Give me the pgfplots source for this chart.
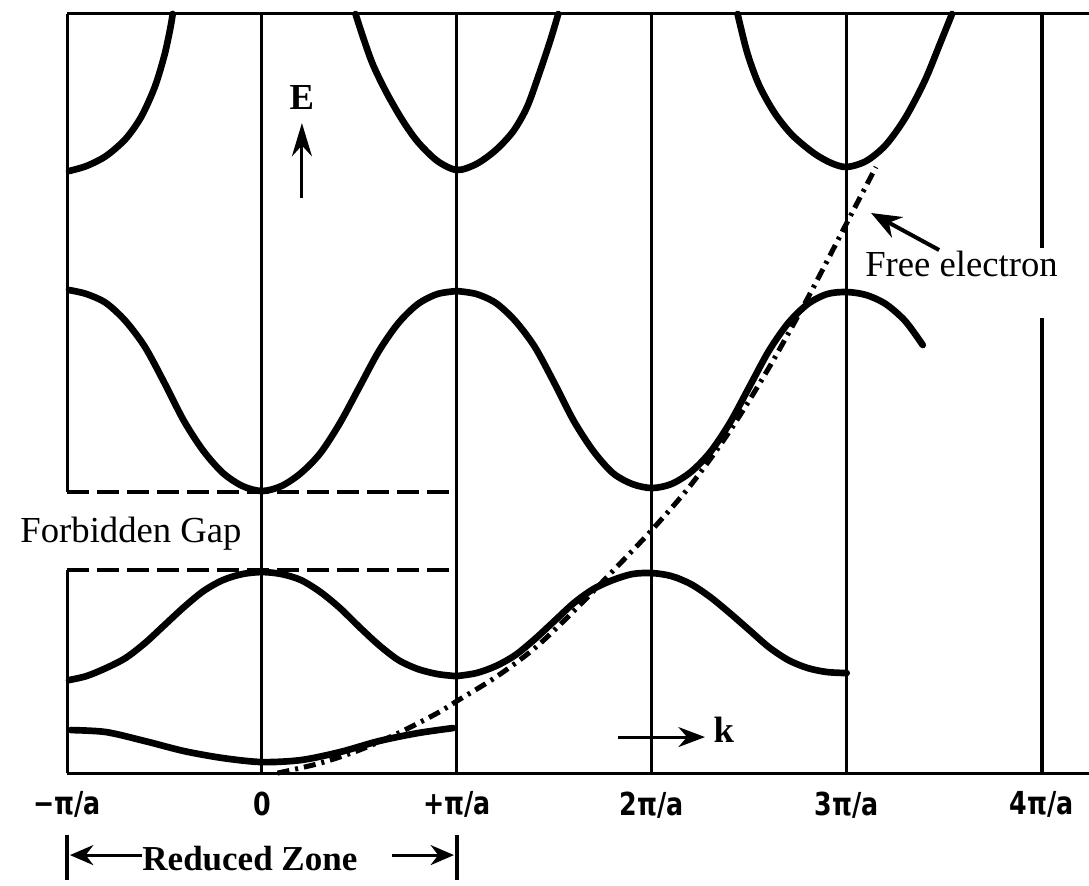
\documentclass[border=0pt]{standalone}
\usepackage{fontspec}
\setmainfont{Liberation Serif}
\newfontfamily\tickfont{DejaVu Sans}[FakeStretch=0.8]
\usepackage{pgfplots}
\pgfplotsset{compat=1.18}
\usetikzlibrary{arrows.meta}

% band curves, zone lines and the free-electron parabola
\tikzset{
  band/.style={line width=2pt, black, smooth, line cap=round},
  zoneline/.style={line width=0.9pt, black},
  gapline/.style={line width=1.2pt, black, dash pattern=on 6.6pt off 2.4pt},
  freeel/.style={line width=1.5pt, black, smooth, dash pattern=on 3.6pt off 1.8pt on 0.9pt off 1.8pt},
  note/.style={font=\fontsize{11}{12}\selectfont},
}

\begin{document}
\begin{tikzpicture}
\begin{axis}[
  scale only axis,
  width=306.56pt, height=227.7pt,
  xmin=-1, xmax=4.243, ymin=0, ymax=759,
  separate axis lines,
  x axis line style={line width=0.9pt},
  y axis line style={draw=none},
  tick pos=left,
  xtick={-1,0,1,2,3,4},
  xticklabels={−π/a, 0, +π/a, 2π/a, 3π/a, 4π/a},
  xticklabel style={font=\tickfont\bfseries\fontsize{9.5}{10}\selectfont, yshift=-2pt},
  ytick=\empty,
  major tick length=0pt,
  clip=false,
]

% left frame, broken at the forbidden gap
\addplot[zoneline] coordinates {(-1,0) (-1,203)};
\addplot[zoneline] coordinates {(-1,281) (-1,759)};
% zone boundaries
\addplot[zoneline] coordinates {(0,0) (0,759)};
\addplot[zoneline] coordinates {(1,0) (1,759)};
\addplot[zoneline] coordinates {(2,0) (2,759)};
\addplot[zoneline] coordinates {(3,0) (3,759)};
\addplot[line width=1.2pt] coordinates {(4,0) (4,455)};
\addplot[line width=1.2pt] coordinates {(4,525) (4,759)};

% edges of the forbidden gap
\addplot[gapline] coordinates {(-1,281) (0.99,281)};
\addplot[gapline] coordinates {(-1,203) (1,203)};

% band 1 (reduced zone)
\addplot[band] coordinates {
(-0.98,43) (-0.8,41) (-0.6,32) (-0.4,22) (-0.2,15) (0,11) (0.2,13) (0.4,21) (0.6,32) (0.8,40) (0.98,45)};

% band 2
\addplot[band] coordinates {
(-0.99,93) (-0.9,97) (-0.8,105) (-0.7,115) (-0.6,130) (-0.5,148) (-0.4,166) (-0.3,182) (-0.2,193) (-0.1,199) (0,201)
(0.1,199) (0.2,193) (0.3,181) (0.4,165) (0.5,146) (0.6,128) (0.7,113) (0.8,104) (0.9,99) (0.99,97)};
\addplot[band] coordinates {
(1.0,97) (1.1,100) (1.2,107) (1.3,118) (1.4,134) (1.5,152) (1.6,170) (1.7,184) (1.8,193) (1.9,199) (2.0,200)
(2.1,197) (2.2,189) (2.3,176) (2.4,160) (2.5,143) (2.6,126) (2.7,113) (2.8,105) (2.9,101) (3.0,100)};

% band 3
\addplot[band] coordinates {
(-0.99,483) (-0.9,479) (-0.8,470) (-0.7,452) (-0.6,426) (-0.5,390) (-0.4,352) (-0.3,322) (-0.2,300) (-0.1,287) (0,282)
(0.1,287) (0.2,300) (0.3,320) (0.4,350) (0.5,386) (0.6,422) (0.7,450) (0.8,469) (0.9,479) (1.0,482)};
\addplot[band] coordinates {
(1.0,482) (1.1,479) (1.2,470) (1.3,452) (1.4,426) (1.5,390) (1.6,352) (1.7,322) (1.8,300) (1.9,289) (2.0,285)
(2.1,289) (2.2,301) (2.3,321) (2.4,350) (2.5,386) (2.6,422) (2.7,450) (2.8,469) (2.9,479) (3.0,481)
(3.1,478) (3.2,469) (3.3,452) (3.39,428)};

% band 4
\addplot[band] coordinates {
(-0.99,602) (-0.9,607) (-0.8,617) (-0.7,634) (-0.62,656) (-0.55,686) (-0.5,718) (-0.47,745) (-0.458,759)};
\addplot[band] coordinates {
(0.48,759) (0.52,735) (0.57,708) (0.64,680) (0.72,653) (0.8,631) (0.9,612) (1.0,603)
(1.1,609) (1.2,623) (1.29,642) (1.36,666) (1.42,698) (1.48,733) (1.52,759)};
\addplot[band] coordinates {
(2.44,759) (2.49,720) (2.55,688) (2.63,660) (2.72,638) (2.83,620) (2.92,610) (3.0,606)
(3.1,612) (3.2,628) (3.3,655) (3.4,692) (3.48,730) (3.54,759)};

% free electron
\addplot[freeel] coordinates {
(0.08,0) (0.3,10) (0.5,23) (0.7,40) (0.9,60) (1.0,72) (1.2,96) (1.4,125) (1.6,162) (1.8,202) (2.0,243)
(2.2,288) (2.4,342) (2.6,405) (2.8,475) (3.0,550) (3.15,606)};

% annotations
\node[note, anchor=base] at (axis cs:-0.672,231) {Forbidden Gap};
\node[note, anchor=base] at (axis cs:3.589,497) {Free electron};
\draw[line width=1.2pt, -{Stealth[length=9pt,width=7pt]}] (axis cs:3.474,523) -- (axis cs:3.125,560);

\node[font=\bfseries\fontsize{11}{12}\selectfont] at (axis cs:0.205,676) {E};
\draw[line width=0.9pt, -{Stealth[length=10pt,width=6pt]}] (axis cs:0.205,575) -- (axis cs:0.205,650);

\draw[line width=0.9pt, -{Stealth[length=8pt,width=6pt]}] (axis cs:1.827,36) -- (axis cs:2.273,36);
\node[font=\bfseries\fontsize{11}{12}\selectfont, anchor=base] at (axis cs:2.37,31) {k};

% reduced zone marker
\draw[line width=1.2pt] (axis cs:-1,-62) -- (axis cs:-1,-107);
\draw[line width=1.2pt] (axis cs:1,-62) -- (axis cs:1,-107);
\draw[line width=0.9pt, -{Stealth[length=7pt,width=6pt]}] (axis cs:-0.616,-82) -- (axis cs:-0.985,-82);
\draw[line width=0.9pt, -{Stealth[length=7pt,width=6pt]}] (axis cs:0.667,-82) -- (axis cs:0.985,-82);
\node[font=\bfseries\fontsize{10.5}{12}\selectfont, anchor=base] at (axis cs:-0.062,-97) {Reduced Zone};

\coordinate (bbA) at (axis cs:-1.344,-112);
\coordinate (bbB) at (axis cs:4.243,773);
\end{axis}
\pgfresetboundingbox
\path[use as bounding box] (bbA) rectangle (bbB);
\end{tikzpicture}
\end{document}
